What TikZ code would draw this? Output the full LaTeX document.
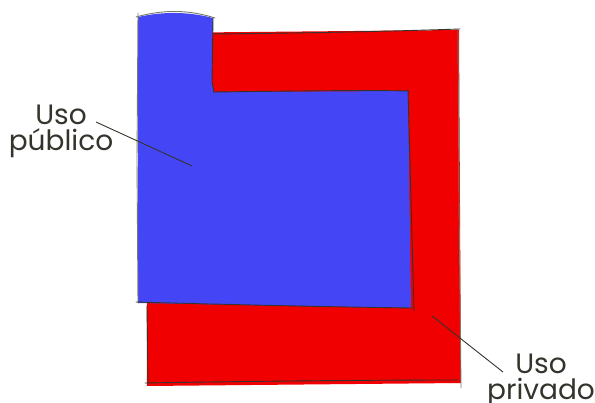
\documentclass[tikz,border=0pt]{standalone}
\usepackage{fontspec}
\setmainfont{Poppins}
\definecolor{publico}{RGB}{68,70,246}
\definecolor{privado}{RGB}{240,0,0}
\definecolor{pencil}{RGB}{52,52,44}
\definecolor{pencillt}{RGB}{120,122,104}
\tikzset{
  sketch/.style={pencil,line width=0.9pt,line cap=round,line join=round},
  sketchlt/.style={pencillt,line width=0.9pt,line cap=round},
  lbl/.style={font=\fontsize{28}{26}\selectfont,text=pencil,align=center,inner sep=0pt},
  leader/.style={pencil,line width=0.9pt}
}
\begin{document}
\begin{tikzpicture}[x=1pt,y=-1pt]
  \useasboundingbox (0,0) rectangle (595,403);

  % ---- private area (red) ----
  \fill[privado] (146,33) -- (459,30) -- (461,383) -- (147,386) -- cycle;
  \draw[sketch] (210,34) .. controls (320,33) and (400,31) .. (460,29);
  \draw[sketchlt] (458,31) -- (459,200) -- (461,388);
  \draw[sketch] (147,306) -- (148,384);
  \draw[sketch] (145,383) .. controls (260,381) and (380,380) .. (458,380);

  % ---- public area (blue) ----
  \fill[publico] (138,17) .. controls (165,11) and (190,12) .. (213,18)
    -- (212,82) -- (214,92) -- (408,91) -- (411,308) -- (138,303) -- cycle;
  \draw[sketchlt] (138,13) -- (137,160) -- (138,303);
  \draw[sketchlt] (136,17) .. controls (165,9) and (190,10) .. (215,18);
  \draw[sketch] (213,18) -- (212,82) -- (214,92);
  \draw[sketch] (213,92) .. controls (300,91) and (360,90) .. (409,91);
  \draw[sketch] (408,90) -- (411,200) -- (414,311);
  \draw[sketch] (136,302) .. controls (240,305) and (340,307) .. (412,308);

  % ---- labels with leader lines ----
  \node[lbl] (pub) at (61,131) {Uso\\público};
  \coordinate (pubA) at (96,122);
  \coordinate (pubB) at (192,166);
  \draw[leader] (pubA) -- (pubB);

  \node[lbl] (priv) at (541,380) {Uso\\privado};
  \coordinate (privA) at (432,316);
  \coordinate (privB) at (503,372);
  \draw[leader] (privA) -- (privB);
\end{tikzpicture}
\end{document}
